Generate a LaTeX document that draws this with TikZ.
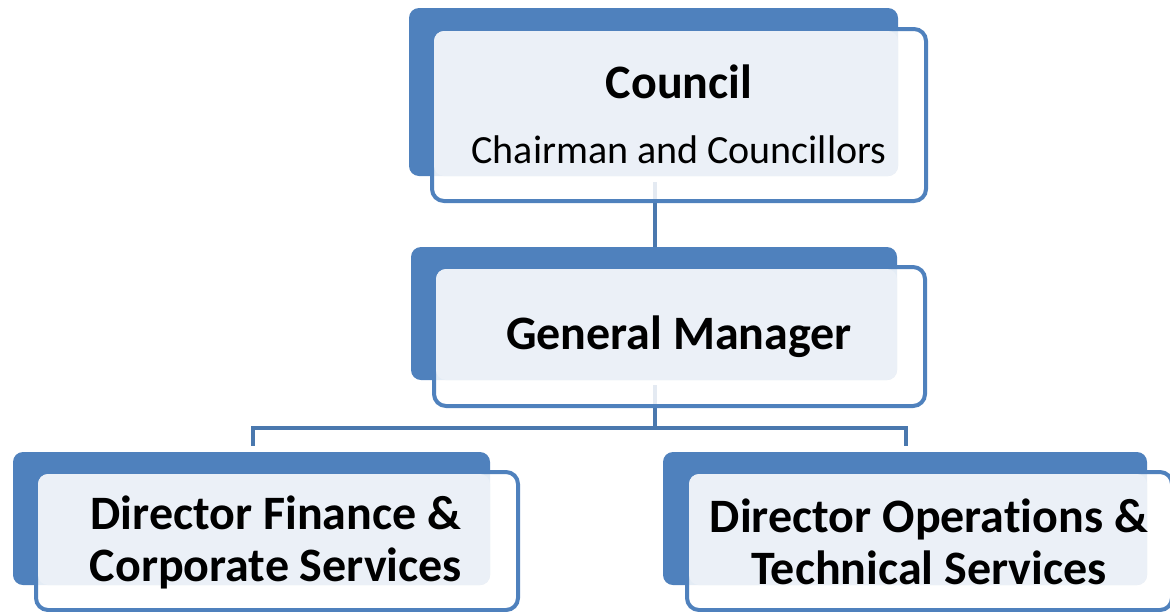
\documentclass[tikz,border=0pt]{standalone}
\usepackage{fontspec}
\setmainfont{Carlito}[Ligatures=NoCommon]
\begin{document}
\begin{tikzpicture}[x=0.5pt,y=-0.5pt,
  back/.style={draw=none,fill=boxblue,rounded corners=5pt,minimum width=#1,inner sep=0pt,outer sep=0pt},
  front/.style={draw=boxblue,line width=2pt,fill=white,fill opacity=0.85,draw opacity=1,rounded corners=6pt,inner sep=0pt,outer sep=0pt},
  light/.style={draw=none,fill=lightfill,rounded corners=5pt,inner sep=0pt,outer sep=0pt},
  title/.style={font=\fontsize{24}{26}\selectfont\bfseries,align=center,inner sep=0pt},
  sub/.style={font=\fontsize{20}{24}\selectfont,inner sep=0pt},
  conn/.style={draw=lineblue,line width=2pt}
]
\definecolor{boxblue}{HTML}{4F81BD}
\definecolor{lightfill}{HTML}{EBF0F7}
\definecolor{lineblue}{HTML}{4A78AE}
\useasboundingbox (0,0) rectangle (1170,611);
% coordinates for the connector tree
\coordinate (jm) at (655,428);
\coordinate (jl) at (253,428);
\coordinate (jr) at (906,428);
\coordinate (dl) at (253,444);
\coordinate (dr) at (906,444);
\coordinate (ct) at (655,182);
\coordinate (gt) at (655,250);
\coordinate (gb) at (655,385);
% connectors (drawn first, faintly visible through the white boxes)
\draw[conn] (ct) -- (gt);
\draw[conn] (gb) -- (jm);
\draw[conn,line cap=rect] (dl) -- (jl) -- (jr) -- (dr);
% Council
\node[back=244.5pt,minimum height=84pt] (cback) at (653.5,92) {};
\node[front,minimum width=247pt,minimum height=86pt] (cfront) at (679,115) {};
\node[light,minimum width=232pt,minimum height=72.5pt] (clight) at (666,103.5) {};
\node[title] (ctitle) at (679,82) {Council};
\node[sub] (csub) at (679,150) {Chairman and Councillors};
% General Manager
\node[back=243pt,minimum height=66.5pt] (gback) at (654,313.5) {};
\node[front,minimum width=245.5pt,minimum height=69.5pt] (gfront) at (679.5,336.5) {};
\node[light,minimum width=230.5pt,minimum height=55.5pt] (glight) at (666.5,324.5) {};
\node[title] (gtitle) at (679,337) {General Manager};
% Director Finance
\node[back=238.5pt,minimum height=66.5pt] (lback) at (251.5,518.5) {};
\node[front,minimum width=241pt,minimum height=69pt] (lfront) at (277,541) {};
\node[light,minimum width=226pt,minimum height=55.5pt] (llight) at (264,529.5) {};
\node[title] (ltitle) at (276,542) {Director Finance \&\\Corporate Services};
% Director Operations
\node[back=242pt,minimum height=66.5pt] (rback) at (905,518.5) {};
\node[front,minimum width=242.5pt,minimum height=69pt] (rfront) at (929.5,541) {};
\node[light,minimum width=229pt,minimum height=55.5pt] (rlight) at (918,529.5) {};
\node[title] (rtitle) at (929,542) {Director Operations \&\\Technical Services};
\end{tikzpicture}
\end{document}
